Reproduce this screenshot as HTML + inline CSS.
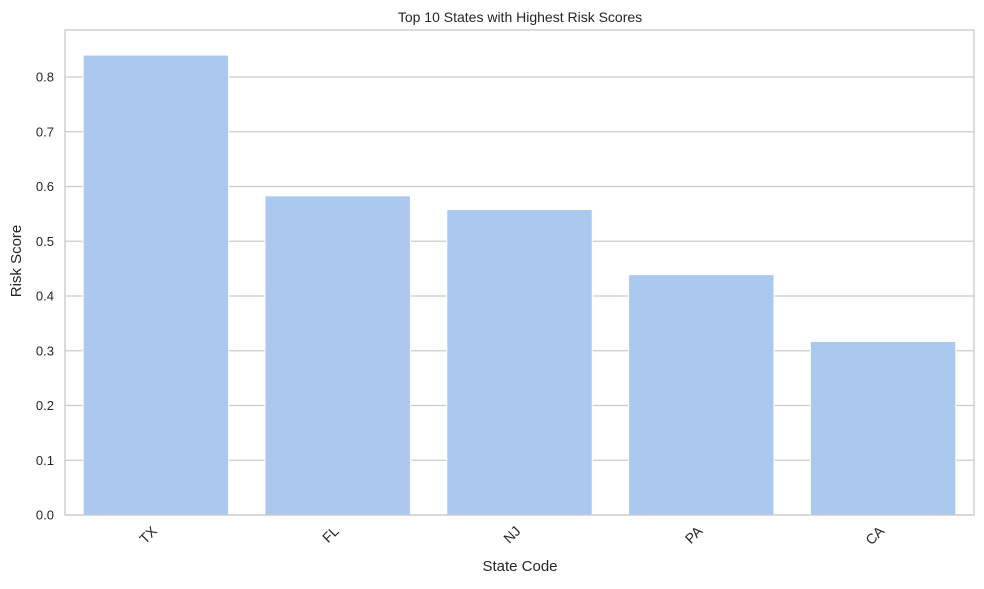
<!DOCTYPE html>
<html><head><meta charset="utf-8"><style>
body{margin:0;background:#fff;font-family:"Liberation Sans",sans-serif}
</style></head><body>
<svg id="c" width="984" height="584" xmlns="http://www.w3.org/2000/svg">
<text x="520" y="22" text-anchor="middle" font-size="14" fill="#262626">Top 10 States with Highest Risk Scores</text>
<text x="520" y="571" text-anchor="middle" font-size="15" fill="#262626">State Code</text>
<text transform="translate(21,261) rotate(-90)" text-anchor="middle" font-size="15" fill="#262626">Risk Score</text>
<g id="grid"></g><g id="bars"></g><g id="xt"></g><g id="yt"></g>
<rect x="65" y="30" width="909" height="485" fill="none" stroke="#cccccc" stroke-width="1.4"/>
</svg>
<script>
const categories=["TX","FL","NJ","PA","CA"];
const values=[0.840,0.583,0.558,0.439,0.317];
const yTicks=[0,0.1,0.2,0.3,0.4,0.5,0.6,0.7,0.8];
const yTickLabels=["0.0","0.1","0.2","0.3","0.4","0.5","0.6","0.7","0.8"];
const L=65,R=974,B=515,PX=547.5;
const NS="http://www.w3.org/2000/svg";
const y=v=>B-v*PX;
const step=(R-L)/categories.length;
const x=i=>L+step*(i+0.5);
function mk(t,a,p){const e=document.createElementNS(NS,t);for(const k in a)e.setAttribute(k,a[k]);document.getElementById(p).appendChild(e);return e;}
yTicks.forEach((v,i)=>{
 const g=mk('line',{x1:L,x2:R,y1:y(v),y2:y(v),stroke:'#cccccc','stroke-width':1.2},'grid');
 
 
 const t=mk('text',{x:L-11,y:y(v)+4.5,'text-anchor':'end','font-size':13,fill:'#262626'},'yt');
 t.textContent=yTickLabels[i];
 
 
});
categories.forEach((c,i)=>{
 const w=step*0.8;
 const r=mk('rect',{x:x(i)-w/2,y:y(values[i]),width:w,height:B-y(values[i]),fill:'#abc9ee',stroke:'#ffffff','stroke-width':1},'bars');
 
 
 const t=mk('text',{transform:`translate(${x(i)+2},${B+17}) rotate(-45)`,'text-anchor':'end','font-size':14,fill:'#262626'},'xt');
 t.textContent=c;
 
 
});
</script>
</body></html>
